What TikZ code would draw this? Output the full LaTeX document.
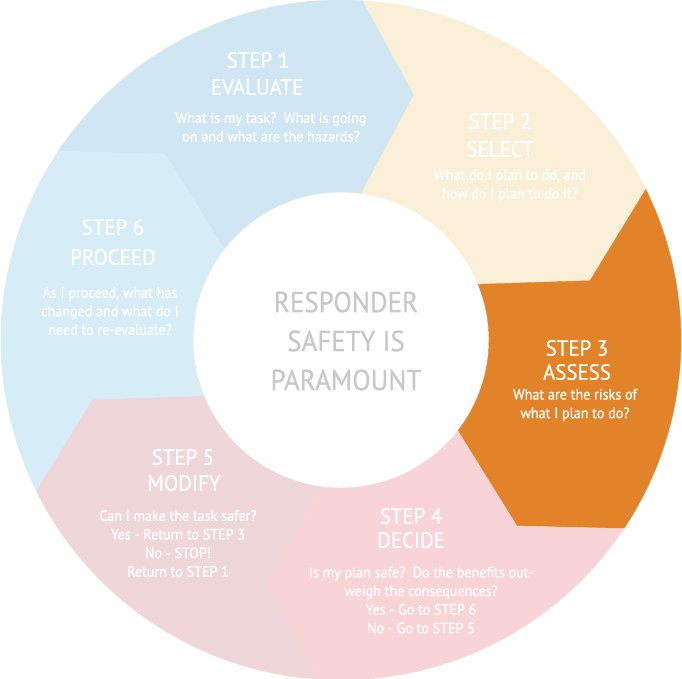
\documentclass[tikz,border=0pt]{standalone}
\usepackage{fontspec}
\setmainfont{PT Sans}[FakeStretch=0.92]
\newfontfamily\titlefont{PT Sans}[FakeStretch=0.95,FakeBold=0.6]
\newfontfamily\bodyfont{PT Sans}[FakeStretch=0.94,FakeBold=0.6]
\newfontfamily\hubfont{PT Sans}[FakeStretch=0.93,FakeBold=0.5]
\definecolor{c1}{RGB}{209,230,243}
\definecolor{c2}{RGB}{250,239,215}
\definecolor{c3}{RGB}{226,131,42}
\definecolor{c4}{RGB}{249,212,214}
\definecolor{c5}{RGB}{239,214,217}
\definecolor{c6}{RGB}{214,237,248}
\definecolor{centergray}{RGB}{200,200,200}
\tikzset{
  title/.style={text=white, font=\titlefont\fontsize{22}{26}\selectfont, inner sep=0pt},
  body/.style={text=white, font=\bodyfont\fontsize{15}{18.6}\selectfont, align=center, inner sep=0pt},
  hub/.style={text=centergray, font=\hubfont\fontsize{29}{39}\selectfont, align=center, inner sep=0pt}
}
\begin{document}
\begin{tikzpicture}[x=1pt,y=1pt]
\fill[white] (-341,-339) rectangle (341,340);
\useasboundingbox (-341,-339) rectangle (341,340);
\foreach \k/\c in {1/c1,2/c2,3/c3,4/c4,5/c5,6/c6}{
  \pgfmathsetmacro{\ap}{86.3-60*(\k-2)}
  \pgfmathsetmacro{\ab}{86.3-60*(\k-1)}
  \pgfmathsetmacro{\tp}{73.4-60*(\k-2)}
  \pgfmathsetmacro{\tb}{73.4-60*(\k-1)}
  \pgfmathsetmacro{\np}{82.1-60*(\k-2)}
  \pgfmathsetmacro{\nb}{82.1-60*(\k-1)}
  \filldraw[fill=\c, draw=\c, line width=0.4pt, line join=round]
    (\ap:340) arc[start angle=\ap, end angle=\ab, radius=340]
    -- (\tb:256) -- (\nb:148)
    arc[start angle=\nb, end angle=\np, radius=148]
    -- (\tp:256) -- cycle;
}
% center
\node[hub] (hub) at (5,-1) {RESPONDER\\SAFETY IS\\PARAMOUNT};
% step 1
\node[title] (t1a) at (-83,280) {STEP 1};
\node[title] (t1b) at (-84,253) {EVALUATE};
\node[body] (b1) at (-70,213) {What is my task?\ \ What is going\\on and what are the hazards?};
% step 2
\node[title] (t2a) at (159,219) {STEP 2};
\node[title] (t2b) at (159,191) {SELECT};
\node[body] (b2) at (169,154.5) {What do I plan to do, and\\how do I plan to do it?};
% step 3
\node[title] (t3a) at (236,-8) {STEP 3};
\node[title] (t3b) at (236,-32) {ASSESS};
\node[body] (b3) at (234,-65) {What are the risks of\\what I plan to do?};
% step 4
\node[title] (t4a) at (70,-176) {STEP 4};
\node[title] (t4b) at (70,-200) {DECIDE};
\node[body] (b4) at (80,-260) {Is my plan safe?\ \ Do the benefits out-\\weigh the consequences?\\Yes - Go to STEP 6\\No - Go to STEP 5};
% step 5
\node[title] (t5a) at (-158,-117) {STEP 5};
\node[title] (t5b) at (-157,-143) {MODIFY};
\node[body] (b5) at (-163,-203.5) {Can I make the task safer?\\Yes - Return to STEP 3\\No - STOP!\\Return to STEP 1};
% step 6
\node[title] (t6a) at (-228,113) {STEP 6};
\node[title] (t6b) at (-228,83) {PROCEED};
\node[body] (b6) at (-231,29) {As I proceed, what has\\changed and what do I\\need to re-evaluate?};
\end{tikzpicture}
\end{document}
